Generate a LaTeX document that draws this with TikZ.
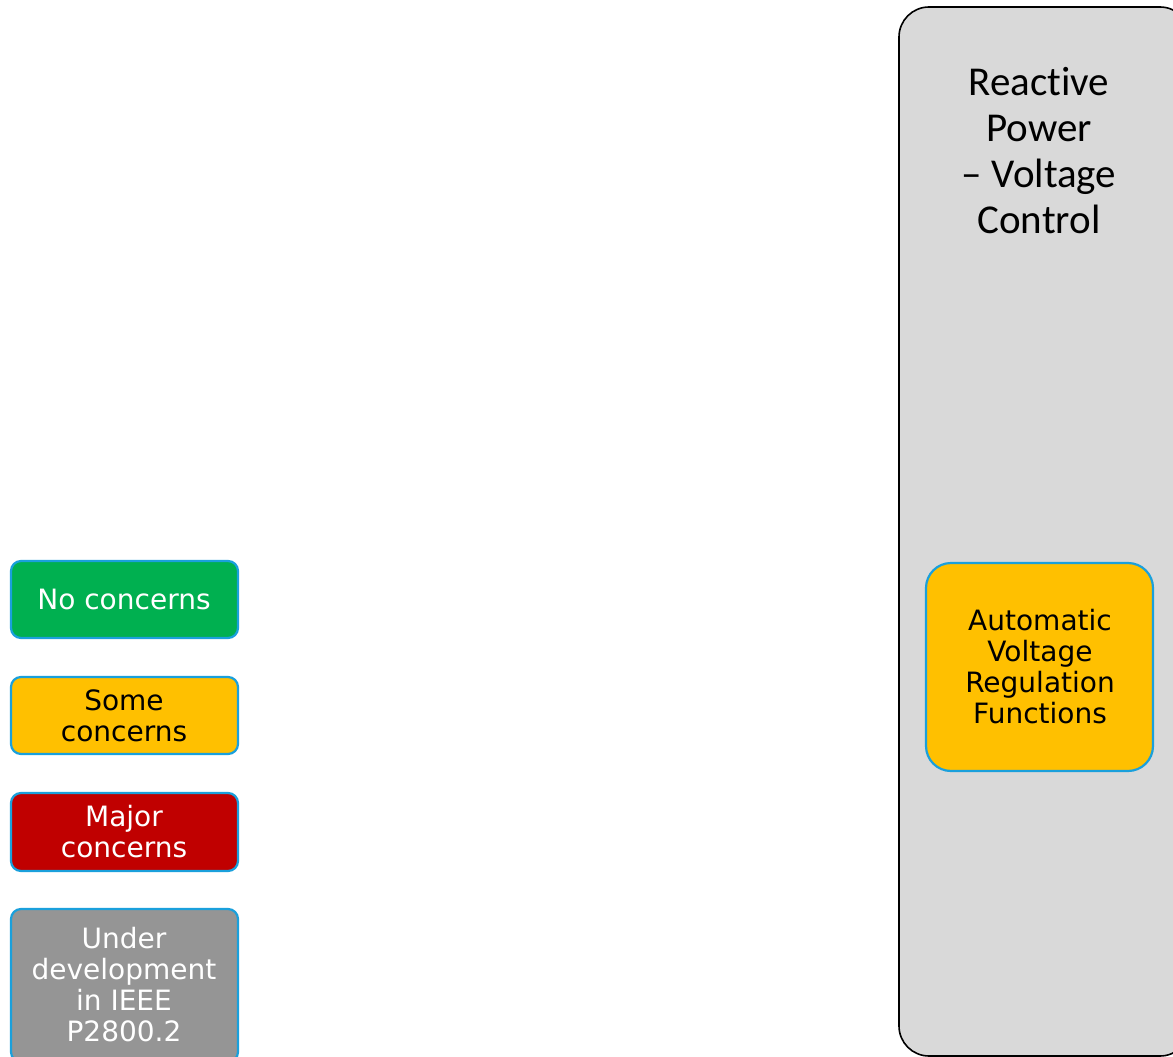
\documentclass[tikz,border=0pt]{standalone}
\usepackage{fontspec}
\setmainfont{DejaVu Sans}
\newfontfamily\titlefont[Ligatures=NoCommon]{Carlito}
\definecolor{bandgray}{HTML}{D9D9D9}
\definecolor{okgreen}{HTML}{00B050}
\definecolor{warnamber}{HTML}{FFC000}
\definecolor{badred}{HTML}{C00000}
\definecolor{devgray}{HTML}{959595}
\definecolor{edgeblue}{HTML}{1AA0DC}
\tikzset{
  legendbox/.style={draw=edgeblue, line width=2.2pt, rounded corners=10pt},
  itemtext/.style={align=center, font=\fontsize{28}{31}\selectfont},
}
\begin{document}
\begin{tikzpicture}[x=1pt, y=-1pt]
\useasboundingbox (0,0) rectangle (1173,1057);
% category column
\draw[fill=bandgray, draw=black, line width=1.6pt, rounded corners=30pt]
  (899,7) rectangle (1190,1056);
\node[font=\titlefont\fontsize{41}{46}\selectfont, align=center, anchor=center]
  (cat) at (1039,151) {Reactive\\Power\\– Voltage\\Control};
% function box
\draw[legendbox, rounded corners=25pt, fill=warnamber] (926,563) rectangle (1153,771);
\node[itemtext, text=black] (avr) at (1040,667) {Automatic\\Voltage\\Regulation\\Functions};
% legend
\draw[legendbox, fill=okgreen] (11,561) rectangle (238,638);
\node[itemtext, text=white] (l1) at (124,599) {No concerns};
\draw[legendbox, fill=warnamber] (11,677) rectangle (238,754);
\node[itemtext, text=black] (l2) at (124,716) {Some\\concerns};
\draw[legendbox, fill=badred] (11,793) rectangle (238,871);
\node[itemtext, text=white] (l3) at (124,832) {Major\\concerns};
\draw[legendbox, fill=devgray] (11,909) rectangle (238,1062);
\node[itemtext, text=white] (l4) at (124,985) {Under\\development\\in IEEE\\P2800.2};
\end{tikzpicture}
\end{document}
